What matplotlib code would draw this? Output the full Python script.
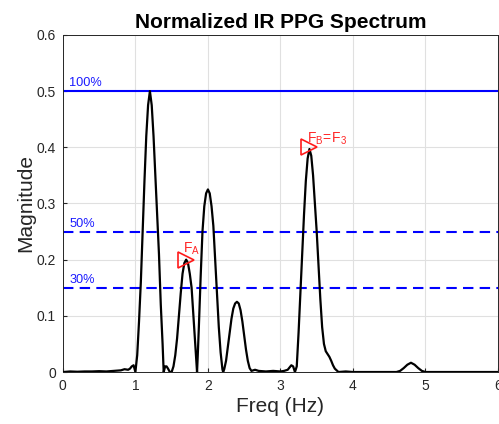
import numpy as np
import matplotlib
matplotlib.use('Agg')
import matplotlib.pyplot as plt

plt.rcParams['font.family'] = ['Liberation Sans', 'DejaVu Sans']

# spectrum (Hz, magnitude)
freq = [0.0, 0.1, 0.2, 0.3, 0.4, 0.5, 0.6, 0.7, 0.8, 0.85, 0.9, 0.925, 0.95, 0.975,
        1.0, 1.025, 1.05, 1.075, 1.1, 1.125, 1.15, 1.175, 1.2, 1.225, 1.25, 1.275,
        1.3, 1.325, 1.35, 1.375, 1.39, 1.41, 1.43, 1.45, 1.475, 1.5,
        1.525, 1.55, 1.575, 1.6, 1.625, 1.65, 1.675, 1.7, 1.725, 1.75, 1.775,
        1.8, 1.825, 1.85, 1.86, 1.875, 1.9, 1.925, 1.95, 1.975, 2.0, 2.025,
        2.05, 2.075, 2.1, 2.125, 2.15, 2.175, 2.2, 2.21, 2.225, 2.25, 2.275,
        2.3, 2.325, 2.35, 2.375, 2.4, 2.425, 2.45, 2.475, 2.5, 2.525, 2.55,
        2.575, 2.6, 2.65, 2.7, 2.8, 2.9, 3.0, 3.05, 3.1, 3.125, 3.15, 3.175,
        3.2, 3.225, 3.25, 3.275, 3.3, 3.325, 3.35, 3.375, 3.4, 3.425, 3.45,
        3.475, 3.5, 3.525, 3.55, 3.575, 3.6, 3.625, 3.65, 3.675, 3.7, 3.725,
        3.75, 3.8, 3.9, 4.0, 4.2, 4.4, 4.6, 4.65, 4.7, 4.75, 4.8, 4.85, 4.9,
        4.95, 5.0, 5.5, 6.0]
mag = [0.0, 0.001, 0.0005, 0.001, 0.001, 0.0015, 0.001, 0.002, 0.003, 0.005, 0.004, 0.006, 0.01, 0.012,
       0.0, 0.03, 0.09, 0.16, 0.25, 0.34, 0.42, 0.475, 0.5, 0.475, 0.42, 0.35,
       0.28, 0.21, 0.12, 0.05, 0.0, 0.01, 0.01, 0.006, 0.0, 0.0,
       0.01, 0.03, 0.06, 0.10, 0.14, 0.175, 0.194, 0.2, 0.194, 0.175, 0.15,
       0.10, 0.05, 0.0, 0.03, 0.08, 0.17, 0.25, 0.295, 0.318, 0.325, 0.318,
       0.295, 0.26, 0.20, 0.14, 0.08, 0.035, 0.005, 0.0, 0.005, 0.02, 0.045,
       0.07, 0.095, 0.113, 0.122, 0.125, 0.122, 0.11, 0.09, 0.065, 0.04, 0.02,
       0.007, 0.002, 0.004, 0.002, 0.001, 0.002, 0.001, 0.002, 0.004, 0.008, 0.012, 0.010,
       0.0, 0.01, 0.07, 0.14, 0.21, 0.28, 0.34, 0.38, 0.397, 0.385, 0.35,
       0.30, 0.25, 0.19, 0.13, 0.08, 0.05, 0.037, 0.032, 0.027, 0.02, 0.012,
       0.006, 0.0, 0.001, 0.0, 0.0, 0.0, 0.0, 0.002, 0.007, 0.013, 0.0165, 0.013, 0.007,
       0.002, 0.0, 0.0, 0.0]

levels = [0.5, 0.25, 0.15]
level_labels = ['100%', '50%', '30%']
level_styles = ['-', '--', '--']

marks_f = [1.7, 3.4]
marks_m = [0.2, 0.4]
mark_labels = [r'$\mathregular{F_A}$', r'$\mathregular{F_B\!=\!F_3}$']

fig = plt.figure(figsize=(4.99, 4.24), dpi=100)
ax = fig.add_axes([0.126, 0.1226, 0.872, 0.795])

ax.plot(freq, mag, color='k', lw=1.6, zorder=3)

for lv, lab, ls in zip(levels, level_labels, level_styles):
    ax.axhline(lv, color=(0, 0, 1), lw=1.5, ls=ls, dashes=(5, 3) if ls == '--' else (None, None), zorder=2)
    ax.text(0.09, lv + 0.003, lab, color=(0.1, 0.1, 1), fontsize=9.2, va='bottom', ha='left')

ax.plot(marks_f, marks_m, ls='none', marker='>', ms=11, mfc='none', mec=(1, 0.1, 0.1), mew=1.2, zorder=4)
ax.text(marks_f[0] - 0.05, marks_m[0] + 0.013, mark_labels[0], color=(1, 0.15, 0.15), fontsize=10)
ax.text(marks_f[1] - 0.03, marks_m[1] + 0.008, mark_labels[1], color=(1, 0.15, 0.15), fontsize=10)

ax.set_xlim(0, 6)
ax.set_ylim(0, 0.6)
ax.set_xticks(np.arange(0, 7, 1))
ax.set_yticks(np.arange(0, 0.61, 0.1))
ax.set_xticklabels(['0', '1', '2', '3', '4', '5', '6'])
ax.set_yticklabels(['0', '0.1', '0.2', '0.3', '0.4', '0.5', '0.6'])
ax.grid(True, color=(0.88, 0.88, 0.88), lw=0.8)
ax.set_axisbelow(True)
ax.tick_params(direction='in', length=3, colors=(0.15, 0.15, 0.15), labelsize=10, pad=5)
for s in ax.spines.values():
    s.set_color((0.15, 0.15, 0.15))
    s.set_linewidth(0.7)

ax.set_title('Normalized IR PPG Spectrum', fontsize=15, fontweight='bold', pad=5)
ax.set_xlabel('Freq (Hz)', fontsize=15, color=(0.15, 0.15, 0.15), labelpad=3)
ax.set_ylabel('Magnitude', fontsize=15, color=(0.15, 0.15, 0.15), labelpad=1)

fig.savefig('out.png', dpi=100)
